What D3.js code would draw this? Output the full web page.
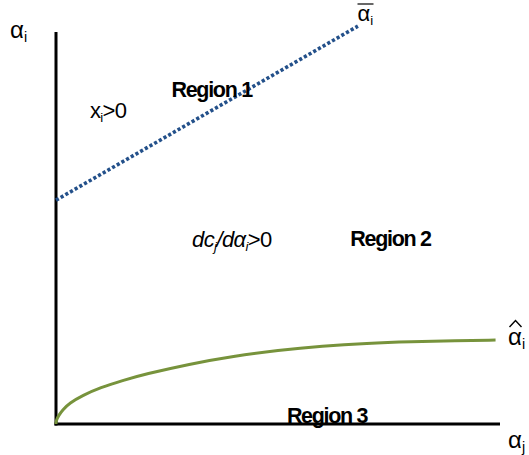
<!DOCTYPE html>
<html>
<head>
<meta charset="utf-8">
<script src="https://cdn.jsdelivr.net/npm/d3@7"></script>
<style>
  html, body { margin: 0; padding: 0; background: #fff; }
  svg { display: block; font-family: "Liberation Sans", Arial, sans-serif; }
</style>
</head>
<body>
<svg id="chart" width="529" height="455"></svg>
<script>
// Upper threshold (dotted): alpha_i-bar as a function of alpha_j
const upperX = [0, 68];
const upperY = [57.1, 101.5];

// Lower threshold (solid green): alpha_i-hat as a function of alpha_j
const lowerX = [0, 0, 0.6, 1.5, 3, 6, 10, 15, 20, 30, 40, 50, 60, 70, 80, 90, 99];
const lowerY = [0, 0.8, 2.2, 3.6, 5.3, 7.3, 9.3, 11.1, 12.7, 15.3, 17.3, 18.8, 19.9, 20.6, 21.0, 21.25, 21.4];

// Region annotations: [text, x, y]
const regionLabels = [
  ["Region 1", 26, 83.5],
  ["Region 2", 66.3, 45.3],
  ["Region 3", 52, 0.3]
];

const svg = d3.select("#chart");
const x = d3.scaleLinear().domain([0, 100]).range([56, 500]);
const y = d3.scaleLinear().domain([0, 100]).range([424, 32]);

// axes: plain lines, no ticks
svg.append("line")
  .attr("x1", x(0)).attr("x2", x(0))
  .attr("y1", y(0) + 1.5).attr("y2", y(100))
  .attr("stroke", "#000").attr("stroke-width", 3);
svg.append("line")
  .attr("x1", x(0) - 1.5).attr("x2", x(100))
  .attr("y1", y(0)).attr("y2", y(0))
  .attr("stroke", "#000").attr("stroke-width", 3);

// dotted upper boundary
svg.append("path")
  .datum(upperX.map((v, i) => [v, upperY[i]]))
  .attr("d", d3.line().x(d => x(d[0])).y(d => y(d[1])))
  .attr("fill", "none")
  .attr("stroke", "#23508a")
  .attr("stroke-width", 3.6)
  .attr("stroke-dasharray", "3.2,2.2");

// solid lower boundary
svg.append("path")
  .datum(lowerX.map((v, i) => [v, lowerY[i]]))
  .attr("d", d3.line().curve(d3.curveBasis).x(d => x(d[0])).y(d => y(d[1])))
  .attr("fill", "none")
  .attr("stroke", "#77933c")
  .attr("stroke-width", 3);

// region labels
svg.selectAll("text.region")
  .data(regionLabels)
  .join("text")
  .attr("class", "region")
  .attr("x", d => x(d[1]))
  .attr("y", d => y(d[2]))
  .attr("font-size", 21.5)
  .attr("font-weight", "bold")
  .attr("letter-spacing", -1.3)
  .text(d => d[0]);

// helper for text with subscripts
function richText(px, py, parts, size) {
  const t = svg.append("text").attr("x", px).attr("y", py)
    .attr("font-size", size).attr("fill", "#000");
  parts.forEach(p => {
    const s = t.append("tspan").text(p.t);
    if (p.sub) s.attr("font-size", size * 0.6).attr("dy", 4);
    if (p.up) s.attr("dy", -4);
    if (p.italic) s.attr("font-style", "italic");
  });
  return t;
}

// axis titles
richText(10, 38, [{t: "α"}, {t: "i", sub: true}], 24);
richText(508, 448, [{t: "α"}, {t: "j", sub: true}], 24);

// alpha-bar at top of dotted line
richText(357.5, 20.5, [{t: "α"}, {t: "i", sub: true}], 22);
svg.append("line").attr("x1", 357.5).attr("x2", 373.5).attr("y1", 4).attr("y2", 4)
  .attr("stroke", "#000").attr("stroke-width", 1.2);

// alpha-hat at end of green curve
richText(508, 345, [{t: "α"}, {t: "i", sub: true}], 24);
svg.append("path").attr("d", "M509.5,327 L515.5,320.5 L521.5,327")
  .attr("fill", "none").attr("stroke", "#000").attr("stroke-width", 1.4);

// x_i > 0
richText(90, 118, [{t: "x"}, {t: "i", sub: true}, {t: ">0", up: true}], 22)
  .attr("letter-spacing", -0.7);

// dc_j / dα_i > 0
richText(192, 247, [
  {t: "dc", italic: true}, {t: "j", sub: true, italic: true},
  {t: "/dα", italic: true, up: true}, {t: "i", sub: true, italic: true},
  {t: ">0", up: true}
], 22).attr("letter-spacing", -0.6);
</script>
</body>
</html>
